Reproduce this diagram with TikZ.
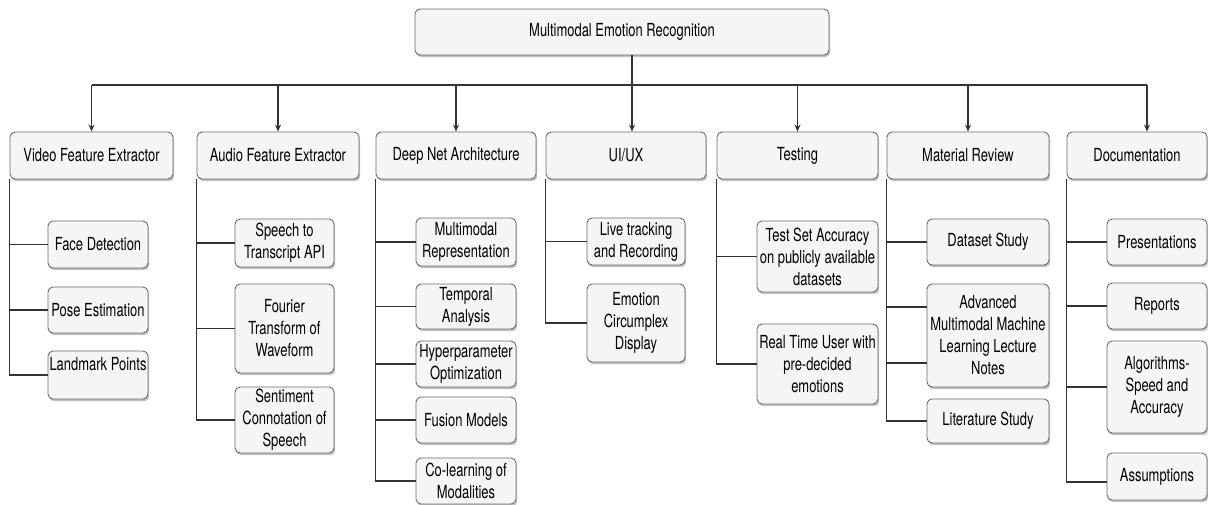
\documentclass[tikz,border=0pt]{standalone}
\usepackage{fontspec}
\setmainfont{TeX Gyre Heros}[FakeStretch=0.72]
\usetikzlibrary{arrows.meta,shadows}
\definecolor{boxfill}{HTML}{F5F5F5}
\definecolor{boxline}{HTML}{6B6B6B}
\definecolor{wirecol}{HTML}{333333}
\newcommand\taskbox[6]{\node[box, minimum width=#4pt, minimum height=#5pt] (#1) at (#2,#3) {#6};}
\begin{document}
\begin{tikzpicture}[x=1pt,y=-1pt,
  box/.style={draw=boxline, line width=0.9pt, fill=boxfill, rounded corners=5pt,
    align=center, inner sep=1pt, font=\fontsize{18}{22}\selectfont, text=black,
    drop shadow={shadow xshift=1.2pt, shadow yshift=-2.2pt, fill=black!45, opacity=0.55}},
  wire/.style={draw=wirecol, line width=1.2pt},
  arrow/.style={wire, -{Stealth[length=7pt,width=6pt]}}]
\useasboundingbox (0,0) rectangle (1208,505);

% root
\taskbox{root}{622}{32}{414}{46}{Multimodal Emotion Recognition}

% work packages
\taskbox{vid}{91.5}{155.5}{163}{47}{Video Feature Extractor}
\taskbox{aud}{278}{155.5}{162}{47}{Audio Feature Extractor}
\taskbox{dna}{456}{155.5}{160}{47}{Deep Net Architecture}
\taskbox{uix}{626}{155.5}{160}{47}{UI/UX}
\taskbox{tst}{797.5}{155.5}{161}{47}{Testing}
\taskbox{mat}{968}{155.5}{162}{47}{Material Review}
\taskbox{doc}{1137}{155.5}{140}{47}{Documentation}

% video
\taskbox{fd}{98}{244.5}{100}{47}{Face Detection}
\taskbox{pe}{98}{310}{100}{46}{Pose Estimation}
\taskbox{lm}{98}{375}{100}{48}{Landmark Points\\~}

% audio
\taskbox{st}{284.5}{243}{99}{48}{Speech to\\Transcript API}
\taskbox{ft}{284.5}{328.5}{99}{89}{Fourier\\Transform of\\Waveform}
\taskbox{sc}{284.5}{420}{99}{66}{Sentiment\\Connotation of\\Speech}

% deep net
\taskbox{mr}{466}{242}{100}{48}{Multimodal\\Representation}
\taskbox{ta}{466}{306.5}{100}{45}{Temporal\\Analysis}
\taskbox{ho}{466}{364}{100}{46}{Hyperparameter\\Optimization}
\taskbox{fm}{466}{420}{100}{46}{Fusion Models}
\taskbox{cl}{466}{481}{100}{46}{Co-learning of\\Modalities}

% ui/ux
\taskbox{lt}{636}{241.5}{98}{47}{Live tracking\\and Recording}
\taskbox{ec}{636}{323}{98}{78}{Emotion\\Circumplex\\Display}

% testing
\taskbox{ts}{817.5}{256.5}{121}{71}{Test Set Accuracy\\on publicly available\\datasets}
\taskbox{rt}{817.5}{364}{121}{80}{Real Time User with\\pre-decided\\emotions}

% material review
\taskbox{ds}{988}{242}{122}{46}{Dataset Study}
\taskbox{am}{988}{335.5}{122}{103}{Advanced\\Multimodal Machine\\Learning Lecture\\Notes}
\taskbox{ls}{988}{421}{122}{44}{Literature Study}

% documentation
\taskbox{pr}{1157}{242}{100}{46}{Presentations}
\taskbox{rp}{1157}{306}{100}{46}{Reports}
\taskbox{al}{1157}{387}{100}{92}{Algorithms-\\Speed and\\Accuracy}
\taskbox{as}{1157}{476.5}{100}{47}{Assumptions}

% bus from the root to the work packages
\coordinate (bus) at (632,85);
\coordinate (uixin) at ([xshift=6pt]uix.north);
\coordinate (docin) at ([xshift=10pt]doc.north);
\draw[wire] ([xshift=10pt]root.south) -- (bus);
\draw[wire] (vid.north |- bus) -- (docin |- bus);
\foreach \n in {vid,aud,dna,tst,mat}
  \draw[arrow] (\n.north |- bus) -- (\n.north);
\draw[arrow] (uixin |- bus) -- (uixin);
\draw[arrow] (docin |- bus) -- (docin);

% sub-task connectors
\foreach \p/\c in {vid/fd,vid/pe,vid/lm,
                   aud/st,aud/ft,aud/sc,
                   dna/mr,dna/ta,dna/ho,dna/fm,dna/cl,
                   uix/lt,uix/ec,
                   tst/ts,tst/rt,
                   mat/ds,mat/ls,
                   doc/pr,doc/rp,doc/al}
  \draw[wire] (\p.south west) |- (\c.west);
\draw[wire] (mat.south west) |- ([yshift=28.5pt]am.west);
\draw[wire] (mat.south west) |- ([yshift=-27.5pt]am.west);
\draw[wire] (doc.south west) |- ([yshift=-5.5pt]as.west);
\end{tikzpicture}
\end{document}
